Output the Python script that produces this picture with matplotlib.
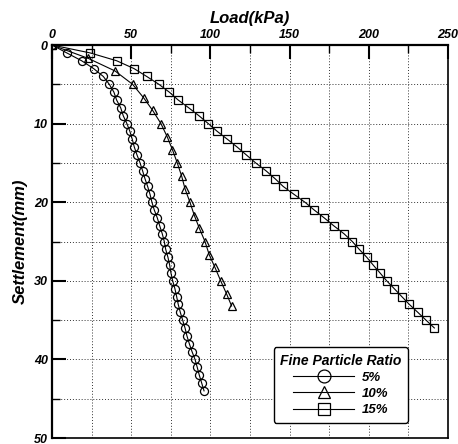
import numpy as np
import matplotlib.pyplot as plt
from matplotlib.ticker import MultipleLocator

# Load (kPa) vs settlement (mm)
settle_5 = list(range(0, 45))
load_5 = [0, 9.3, 18.7, 26.3, 32.4, 36.2, 39.1, 40.8, 43.4, 45.0,
          47.3, 49.2, 50.7, 52.0, 53.7, 55.6, 57.2, 58.7, 60.4, 61.9,
          63.1, 64.6, 66.5, 68.0, 69.6, 70.9, 71.8, 73.2, 74.3, 75.1,
          76.2, 77.6, 78.7, 79.7, 81.0, 82.5, 84.0, 85.2, 86.7, 88.4,
          90.3, 91.7, 93.0, 94.5, 96.0]

settle_10 = [0, 1.7, 3.3, 5.0, 6.7, 8.3, 10.0, 11.7, 13.3, 15.0, 16.7,
             18.3, 20.0, 21.7, 23.3, 25.0, 26.7, 28.3, 30.0, 31.7, 33.2]
load_10 = [0, 22.9, 39.8, 50.9, 57.8, 63.5, 68.8, 72.8, 76.0, 79.1, 81.9,
           84.0, 87.1, 89.9, 93.0, 96.6, 99.3, 102.9, 106.5, 110.3, 113.4]

settle_15 = list(range(0, 37))
load_15 = [0, 24.0, 40.8, 51.8, 59.8, 67.5, 74.1, 79.7, 86.4, 92.8,
           98.7, 104.4, 110.8, 117.0, 122.8, 128.6, 135.1, 140.8, 146.0, 152.8,
           159.7, 165.6, 171.9, 177.9, 184.3, 189.6, 194.0, 198.7, 202.8, 207.1,
           211.3, 216.1, 220.8, 225.6, 230.9, 236.1, 241.4]

labels = ["5%", "10%", "15%"]
markers = ["o", "^", "s"]

FONT = dict(family="Liberation Sans", weight="bold", style="italic")

fig = plt.figure(figsize=(4.58, 4.44), dpi=100)
ax = fig.add_axes([0.1135, 0.0135, 0.8646, 0.8851])

series = [(load_5, settle_5), (load_10, settle_10), (load_15, settle_15)]
for (x, y), lab, m in zip(series, labels, markers):
    ax.plot(x, y, color="black", lw=0.8, marker=m, markersize=5.8,
            markerfacecolor="none", markeredgecolor="black",
            markeredgewidth=0.9, label=lab)

ax.set_xlim(0, 250)
ax.set_ylim(50, 0)

ax.xaxis.set_major_locator(MultipleLocator(50))
ax.xaxis.set_minor_locator(MultipleLocator(25))
ax.yaxis.set_major_locator(MultipleLocator(10))
ax.yaxis.set_minor_locator(MultipleLocator(5))

ax.xaxis.tick_top()
ax.xaxis.set_label_position("top")
ax.tick_params(axis="both", which="major", direction="in", length=10,
               width=1.5, pad=3)
ax.tick_params(axis="both", which="minor", direction="in", length=6,
               width=1.0)
ax.tick_params(axis="x", which="both", bottom=False, top=True)
ax.tick_params(axis="y", which="both", right=False, left=True)

for lbl in ax.get_xticklabels() + ax.get_yticklabels():
    lbl.set_fontproperties(dict(FONT, size=9))

ax.grid(True, which="both", color="#333333", linestyle=(0, (1, 2)),
        linewidth=0.7)
ax.set_axisbelow(True)

for side in ["top", "left"]:
    ax.spines[side].set_linewidth(1.6)
for side in ["bottom", "right"]:
    ax.spines[side].set_linewidth(1.2)

ax.set_xlabel("Load(kPa)", fontsize=12, labelpad=4, **FONT)
ax.set_ylabel("Settlement(mm)", fontsize=12, labelpad=4, **FONT)

leg = ax.legend(loc="lower right", bbox_to_anchor=(0.916, 0.022),
                title="Fine Particle Ratio", frameon=True, fancybox=True,
                edgecolor="black", handlelength=4.6, markerscale=1.6,
                borderpad=0.5, labelspacing=0.3, handletextpad=0.6,
                prop=dict(FONT, size=9.5))
leg.get_title().set_fontproperties(dict(FONT, size=10))
leg.get_frame().set_linewidth(1.0)
leg.get_frame().set_alpha(1)

fig.savefig("out.png", dpi=100)
